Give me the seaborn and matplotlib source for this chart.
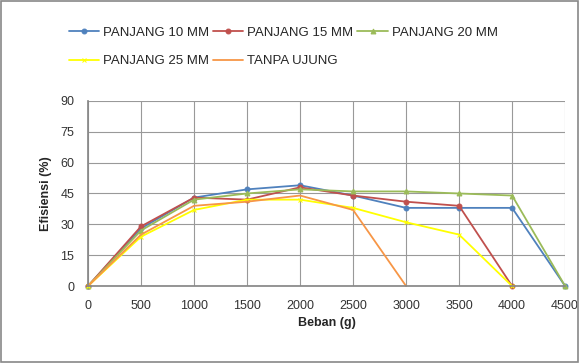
import pandas as pd
import matplotlib
matplotlib.use("Agg")
import matplotlib.pyplot as plt
import seaborn as sns

beban = [0, 500, 1000, 1500, 2000, 2500, 3000, 3500, 4000, 4500]
p10 = [0, 28, 43, 47, 49, 44, 38, 38, 38, 0]
p15 = [0, 29, 43, 42, 48, 44, 41, 39, 0]
p20 = [0, 27, 42, 45, 47, 46, 46, 45, 44, 0]
p25 = [0, 24, 37, 42, 42, 38, 31, 25, 0]
tanpa = [0, 25, 39, 41, 44, 37, 0]

series = {
    "PANJANG 10 MM": p10,
    "PANJANG 15 MM": p15,
    "PANJANG 20 MM": p20,
    "PANJANG 25 MM": p25,
    "TANPA UJUNG": tanpa,
}
colors = ["#4F81BD", "#C0504D", "#9BBB59", "#FFFF00", "#F79646"]
markers = ["o", "o", "^", "x", ""]

sns.set_theme(style="whitegrid")
plt.rcParams["font.family"] = ["Liberation Sans", "DejaVu Sans"]

fig = plt.figure(figsize=(5.79, 3.63), dpi=100)
ax = fig.add_axes([0.152, 0.212, 0.824, 0.51])

for (name, vals), c, m in zip(series.items(), colors, markers):
    df = pd.DataFrame({"beban": beban[:len(vals)], "eff": vals})
    sns.lineplot(data=df, x="beban", y="eff", ax=ax, color=c, marker=m if m else None,
                 markersize=3.5, linewidth=1.3, markeredgecolor=c, clip_on=False, label=name)
ax.legend_.remove()
h, l = ax.get_legend_handles_labels()
order = [0, 3, 1, 4, 2]
fig.legend([h[i] for i in order], [l[i] for i in order], ncol=3, loc="upper left",
           bbox_to_anchor=(0.098, 0.96), frameon=False, fontsize=9.5,
           handlelength=2.3, handletextpad=0.3, columnspacing=0.3, labelspacing=1.25)

ax.set_xlim(0, 4500)
ax.set_ylim(0, 90)
ax.set_xticks(beban)
ax.set_yticks(range(0, 91, 15))
ax.tick_params(labelsize=9, colors="#333333", pad=4)
ax.grid(color="#999999", linewidth=0.8)
ax.set_facecolor("white")
for s in ["top", "right"]:
    ax.spines[s].set_visible(False)
for s in ["left", "bottom"]:
    ax.spines[s].set_color("#888888")
ax.set_xlabel("Beban (g)", fontsize=9, fontweight="bold", labelpad=4)
ax.set_ylabel("Efisiensi (%)", fontsize=9, fontweight="bold", labelpad=6)

fig.patches.append(plt.Rectangle((0.002, 0.003), 0.996, 0.994, transform=fig.transFigure,
                                 fill=False, edgecolor="#888888", linewidth=1.2))
fig.savefig("out.png", dpi=100)
